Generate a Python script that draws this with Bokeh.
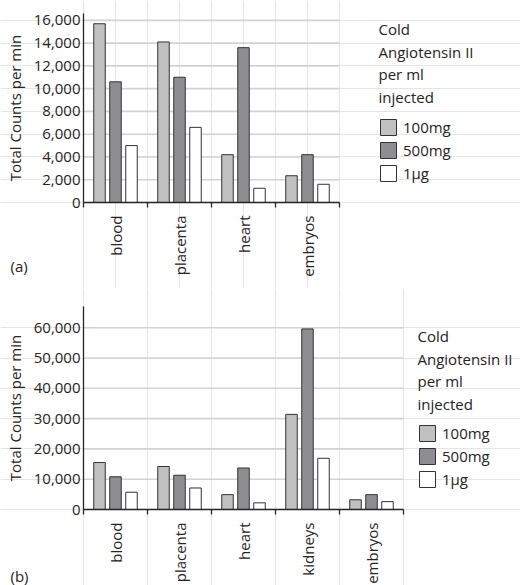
from bokeh.plotting import figure
from bokeh.models import (Range1d, FixedTicker, NumeralTickFormatter, Legend,
                          LegendItem, Label, ColumnDataSource, LinearAxis)
from bokeh.transform import dodge
from bokeh.layouts import column
from bokeh.embed import file_html
from bokeh.resources import INLINE

# ---- data ----
series = ["100mg", "500mg", "1\u00b5g"]

cats_a = ["blood", "placenta", "heart", "embryos"]
a_100mg = [15700, 14100, 4200, 2350]
a_500mg = [10600, 11000, 13600, 4200]
a_1ug = [5000, 6600, 1250, 1600]
ticks_a = [0, 2000, 4000, 6000, 8000, 10000, 12000, 14000, 16000]

cats_b = ["blood", "placenta", "heart", "kidneys", "embryos"]
b_100mg = [15500, 14200, 4900, 31400, 3200]
b_500mg = [10800, 11300, 13700, 59600, 4900]
b_1ug = [5700, 7100, 2200, 16900, 2600]
ticks_b = [0, 10000, 20000, 30000, 40000, 50000, 60000]

title_lines = ["Cold", "Angiotensin II", "per ml", "injected"]

FONT = "Open Sans"
TXT = "#262324"
FILLS = ["#c0c0c0", "#8e8e91", "#ffffff"]
EDGE = "#333333"
W = 520
CAT_PX = 64          # pixel width of one category
LEFT_PX = 83         # pixels left of the y axis


def make_panel(cats, v1, v2, v3, ticks, ytop, height, top_px, zero_px,
               leg_x, title_ys, leg_y, tag, tag_y):
    n = len(cats)
    # layout mapping (pixels -> data ranges)
    right_px = W - LEFT_PX - n * CAT_PX
    scale = (zero_px - top_px) / ytop          # px per unit
    bottom_px = height - zero_px
    p = figure(width=W, height=height, output_backend="svg", toolbar_location=None,
               x_range=Range1d(-LEFT_PX / CAT_PX, n + right_px / CAT_PX),
               y_range=Range1d(-bottom_px / scale, ytop + top_px / scale),
               x_axis_location=None, y_axis_location=None,
               min_border=0)
    p.outline_line_color = None
    p.background_fill_color = None
    p.border_fill_color = None

    # grid lines
    p.segment(x0=0, x1=n, y0=ticks[1:], y1=ticks[1:], line_color="#d3d3d3", line_width=1.6)

    src = ColumnDataSource(dict(x=[i + 0.5 for i in range(n)], s1=v1, s2=v2, s3=v3))
    rs = []
    for off, col, fc in zip([-0.25, 0.0, 0.25], ["s1", "s2", "s3"], FILLS):
        r = p.vbar(x=dodge("x", off, range=p.x_range), top=col, width=0.18, source=src,
                   fill_color=fc, line_color=EDGE, line_width=1)
        rs.append(r)

    ya = LinearAxis(fixed_location=0, bounds=(0, ytop))
    ya.ticker = FixedTicker(ticks=ticks)
    ya.formatter = NumeralTickFormatter(format="0,0")
    ya.major_tick_out = 0
    ya.major_tick_in = 0
    ya.minor_tick_out = 0
    ya.minor_tick_in = 0
    ya.axis_line_color = TXT
    ya.axis_line_width = 1.3
    ya.major_label_standoff = 3
    ya.major_label_text_font = FONT
    ya.major_label_text_font_size = "15px"
    ya.major_label_text_color = TXT
    ya.axis_label = "Total Counts per min"
    ya.axis_label_text_font = FONT
    ya.axis_label_text_font_size = "15px"
    ya.axis_label_text_font_style = "normal"
    ya.axis_label_text_color = TXT
    ya.axis_label_standoff = 6
    p.add_layout(ya, "left")

    centers = [i + 0.5 for i in range(n)]
    xa = LinearAxis(fixed_location=0, bounds=(0, n))
    xa.ticker = FixedTicker(ticks=centers, minor_ticks=list(range(n + 1)))
    xa.major_label_overrides = {c: name for c, name in zip(centers, cats)}
    xa.major_label_orientation = 1.5707963267948966
    xa.major_tick_out = 0
    xa.major_tick_in = 0
    xa.minor_tick_out = 5
    xa.minor_tick_in = 0
    xa.minor_tick_line_color = TXT
    xa.minor_tick_line_width = 1.3
    xa.axis_line_color = TXT
    xa.axis_line_width = 1.3
    xa.major_label_standoff = 8
    xa.major_label_text_font = FONT
    xa.major_label_text_font_size = "15px"
    xa.major_label_text_color = TXT
    p.add_layout(xa, "below")

    # legend title lines
    for ty, line in zip(title_ys, title_lines):
        p.add_layout(Label(x=leg_x, y=ty, x_units="screen", y_units="screen", text=line,
                           text_font=FONT, text_font_size="15px", text_color=TXT,
                           text_baseline="middle", text_align="left"))

    leg = Legend(items=[LegendItem(label=s, renderers=[r]) for s, r in zip(series, rs)],
                 location=(leg_x, leg_y), glyph_width=20, glyph_height=20, label_height=20,
                 spacing=3, padding=0, margin=0, border_line_color=None,
                 background_fill_alpha=0, label_standoff=5,
                 label_text_font=FONT, label_text_font_size="15px", label_text_color=TXT)
    p.add_layout(leg)

    p.add_layout(Label(x=10, y=tag_y, x_units="screen", y_units="screen", text=tag,
                       text_font=FONT, text_font_size="15px", text_color=TXT,
                       text_baseline="middle", text_align="left"))
    return p


# panel (a): figure spans page y 0..288
pa = make_panel(cats_a, a_100mg, a_500mg, a_1ug, ticks_a, 16600, 288, 13, 202,
                378, [260, 237, 215, 192], 105, "(a)", 23)
# panel (b): figure spans page y 288..585
pb = make_panel(cats_b, b_100mg, b_500mg, b_1ug, ticks_b, 67000, 297, 18, 221,
                417, [250, 227, 205, 182], 96, "(b)", 10)

layout = column(pa, pb, spacing=0)
open("out.html", "w").write(file_html(layout, INLINE))
